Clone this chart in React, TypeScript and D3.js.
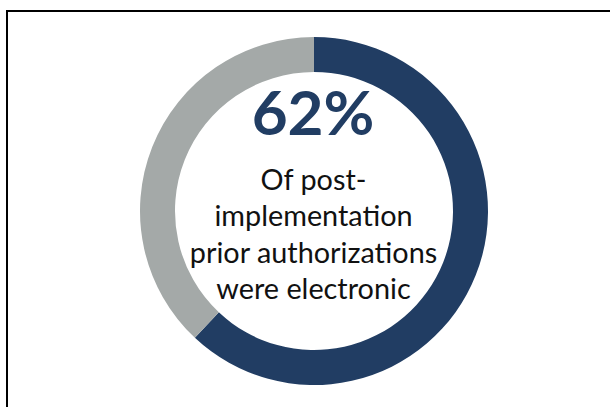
import React from "react";
import * as d3 from "d3";

const categories = ["Electronic", "Other"];
const values = [62, 38];
const colors = ["#213d63", "#a4a9a8"];
const bigLabel = "62%";
const captionLines = ["Of post-", "implementation", "prior authorizations", "were electronic"];

export default function App() {
  const W = 610, H = 407;
  const cx = 314, cy = 211;
  const outerR = 174, innerR = 139;
  const pie = d3.pie<number>().sort(null).value((d) => d);
  const arcs = pie(values);
  const arc = d3.arc<d3.PieArcDatum<number>>().innerRadius(innerR).outerRadius(outerR);
  const font = "Lato, 'Open Sans', sans-serif";
  return (
    <svg width={W} height={H} style={{ position: "absolute", left: 0, top: 0, background: "#fff" }}>
      <rect x={7} y={11} width={700} height={500} fill="#fff" stroke="#000" strokeWidth={2} />
      <g transform={`translate(${cx},${cy})`}>
        {arcs.map((a, i) => (
          <path key={categories[i]} d={arc(a) || ""} fill={colors[i]} />
        ))}
      </g>
      <text x={313} y={135} textAnchor="middle" fontFamily={font} fontWeight={700} fontSize={62} fill={colors[0]}>
        {bigLabel}
      </text>
      {captionLines.map((l, i) => (
        <text key={i} x={313.5} y={189.5 + i * 36.5} textAnchor="middle" fontFamily={font} fontSize={28.8} fill="#111">
          {l}
        </text>
      ))}
    </svg>
  );
}
